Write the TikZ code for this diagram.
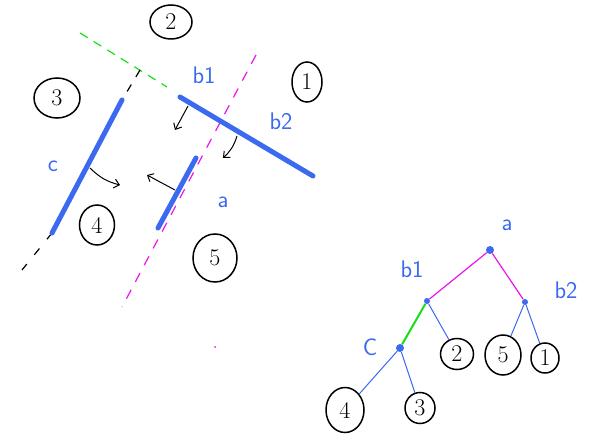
\documentclass[tikz,border=0pt]{standalone}
\usepackage{tikz}
\usetikzlibrary{calc, positioning}
\usetikzlibrary{shapes.geometric, arrows.meta}

\definecolor{pena}{RGB}{59,105,240}
\definecolor{rosa}{RGB}{235,20,235}
\definecolor{verde}{RGB}{20,225,20}

\begin{document}
\begin{tikzpicture}[
    x=1pt, y=-1pt,
    regiao/.style={draw, ellipse, line width=1.5pt, inner sep=0pt,
        font=\fontsize{24}{26}\selectfont},
    no/.style={circle, fill=pena, inner sep=0pt, minimum size=8pt},
    rotulo/.style={text=pena, font=\fontsize{24}{26}\selectfont\sffamily},
    parede/.style={pena, line width=5pt, line cap=round},
    ramo/.style={pena, line width=1pt},
    normal/.style={-{Straight Barb[length=5pt, width=9pt]}, line width=1pt}
]
    \useasboundingbox (0,0) rectangle (599,438);

    % 1. Retas de corte (tracejadas)
    \coordinate (G1) at (80,33);
    \coordinate (G2) at (167,87);
    \coordinate (K1) at (140,70);
    \coordinate (K2) at (22,270);
    \coordinate (R1) at (256,55);
    \coordinate (R2) at (122,307);
    \coordinate (C1) at (122,100);
    \coordinate (C2) at (52,233);
    \draw[verde, line width=1.2pt, dash pattern=on 9pt off 7pt] (G1) -- (G2);
    \draw[line width=1.2pt, dash pattern=on 8pt off 9pt] (K1) -- (C1);
    \draw[line width=1.2pt, dash pattern=on 8pt off 12pt] (C2) -- (K2);
    \draw[rosa, line width=1.2pt, dash pattern=on 10pt off 9pt] (R1) -- (R2);

    % 2. Segmentos grossos (paredes)
    \coordinate (A1) at (196,158);
    \coordinate (A2) at (158,228);
    \coordinate (B1) at (180,97);
    \coordinate (B2) at (313,176);
    \draw[parede] (C1) -- (C2);
    \draw[parede] (A1) -- (A2);
    \draw[parede] (B1) -- (B2);

    % 3. Setas das normais
    \draw[normal] (188,106) -- (175,130);
    \draw[normal] (237,136) to[bend left=15] (223,158);
    \draw[normal] (90,168) to[bend right=15] (120,185);
    \draw[normal] (175,190) -- (147,175);

    % 4. Rótulos dos segmentos
    \node[rotulo] (lb1) at (204,75) {b1};
    \node[rotulo] (lb2) at (281,121) {b2};
    \node[rotulo] (lc) at (53,166) {c};
    \node[rotulo] (la) at (223,202) {a};

    % 5. Regiões numeradas
    \node[regiao, minimum width=42pt, minimum height=34pt] (r2) at (171,22) {2};
    \node[regiao, minimum width=30pt, minimum height=40pt] (r1) at (307,82) {1};
    \node[regiao, minimum width=46pt, minimum height=40pt] (r3) at (57,98) {3};
    \node[regiao, minimum width=35pt, minimum height=40pt] (r4) at (97,225) {4};
    \node[regiao, minimum width=44pt, minimum height=48pt] (r5) at (215,258) {5};
    \fill[rosa] (215,347) circle (1pt);

    % 6. Árvore
    \node[no] (a) at (490,250) {};
    \node[no, minimum size=6pt] (b1) at (427,301) {};
    \node[no, minimum size=6pt] (b2) at (525,302) {};
    \node[no] (c) at (400,348) {};
    \node[rotulo] (ta) at (507,225) {a};
    \node[rotulo] (tb1) at (412,269) {b1};
    \node[rotulo] (tb2) at (566,290) {b2};
    \node[rotulo] (tc) at (370,347) {C};

    \node[regiao, minimum width=33pt, minimum height=31pt] (f2) at (457,354) {2};
    \node[regiao, minimum width=36pt, minimum height=40pt] (f5) at (503,355) {5};
    \node[regiao, minimum width=28pt, minimum height=30pt] (f1) at (545,358) {1};
    \node[regiao, minimum width=38pt, minimum height=45pt] (f4) at (345,410) {4};
    \node[regiao, minimum width=30pt, minimum height=31pt] (f3) at (420,408) {3};

    \draw[rosa, line width=1.2pt] (a) -- (b1);
    \draw[rosa, line width=1.2pt] (a) -- (b2);
    \draw[verde, line width=2pt] (b1) -- (c);
    \draw[ramo] (b1) -- (f2);
    \draw[ramo] (b2) -- (f5);
    \draw[ramo] (b2) -- (f1);
    \draw[ramo] (c) -- (f4);
    \draw[ramo] (c) -- (f3);

\end{tikzpicture}
\end{document}
